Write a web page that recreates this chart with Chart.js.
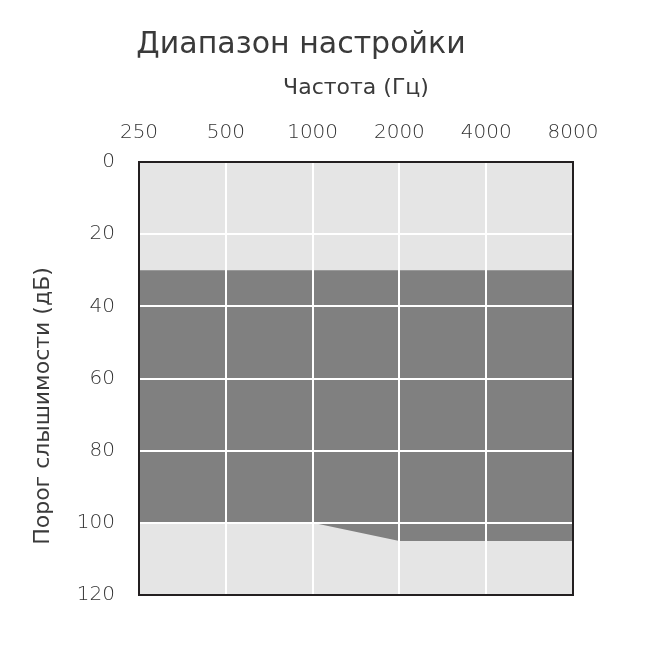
<!DOCTYPE html>
<html>
<head>
<meta charset="utf-8">
<script src="https://cdn.jsdelivr.net/npm/chart.js@4.4.1/dist/chart.umd.min.js"></script>
<style>
  html, body { margin: 0; padding: 0; background: #fff; }
  #wrap { width: 650px; height: 650px; }
</style>
</head>
<body>
<div id="wrap"><canvas id="grafico" width="650" height="650"></canvas></div>
<script>
// dados
const frequencias = ['250', '500', '1000', '2000', '4000', '8000'];
const limiteSuperior = [30, 30, 30, 30, 30, 30];
const limiteInferior = [100, 100, 100, 105, 105, 105];
const ticksY = [0, 20, 40, 60, 80, 100, 120];

const fonte = '"DejaVu Sans", sans-serif';

const fundoEMoldura = {
    id: 'fundoEMoldura',
    beforeDraw(chart) {
        const { ctx, chartArea: a } = chart;
        ctx.save();
        ctx.fillStyle = '#e5e5e5';
        ctx.fillRect(a.left, a.top, a.width, a.height);
        ctx.restore();
    },
    afterDraw(chart) {
        const { ctx, chartArea: a } = chart;
        ctx.save();
        ctx.strokeStyle = '#231f20';
        ctx.lineWidth = 2;
        ctx.strokeRect(a.left, a.top, a.width, a.height);
        // título do eixo y, um pouco abaixo do centro
        ctx.translate(43, 406);
        ctx.rotate(-Math.PI / 2);
        ctx.font = '22px ' + fonte;
        ctx.fillStyle = '#3a3a3a';
        ctx.textAlign = 'center';
        ctx.textBaseline = 'middle';
        ctx.fillText('Порог слышимости (дБ)', 0, 0);
        ctx.restore();
    }
};

const ctx = document.getElementById('grafico').getContext('2d');

const grafico = new Chart(ctx, {
    type: 'line',
    data: {
        labels: frequencias,
        datasets: [{
            label: 'superior',
            data: limiteSuperior,
            borderWidth: 0,
            pointRadius: 0,
            fill: false
        }, {
            label: 'inferior',
            data: limiteInferior,
            borderWidth: 0,
            pointRadius: 0,
            backgroundColor: '#808080',
            fill: '-1'
        }]
    },
    options: {
        responsive: false,
        animation: false,
        layout: { padding: { left: 29, right: 77, top: 27, bottom: 55 } },
        plugins: {
            legend: { display: false },
            tooltip: { enabled: false },
            title: {
                display: true,
                text: 'Диапазон настройки',
                color: '#3a3a3a',
                font: { family: fonte, size: 30, weight: 'normal' },
                padding: { top: 0, bottom: 0 }
            }
        },
        scales: {
            x: {
                position: 'top',
                offset: false,
                afterFit(scale) { scale.height = 99; },
                grid: { color: '#fff', lineWidth: 2, drawTicks: false, z: 1 },
                border: { display: false },
                ticks: {
                    color: '#333',
                    padding: 17,
                    maxRotation: 0,
                    font: { family: fonte, size: 20, weight: 200 }
                },
                title: {
                    display: true,
                    text: 'Частота (Гц)',
                    color: '#3a3a3a',
                    font: { family: fonte, size: 22 },
                    padding: { top: 12, bottom: 0 }
                }
            },
            y: {
                reverse: true,
                min: 0,
                max: 120,
                afterFit(scale) { scale.width = 110; },
                afterBuildTicks(scale) { scale.ticks = ticksY.map(v => ({ value: v })); },
                grid: { color: '#fff', lineWidth: 2, drawTicks: false, z: 1 },
                border: { display: false },
                ticks: {
                    color: '#333',
                    padding: 24,
                    font: { family: fonte, size: 20, weight: 200 }
                }
            }
        }
    },
    plugins: [fundoEMoldura]
});
</script>
</body>
</html>
